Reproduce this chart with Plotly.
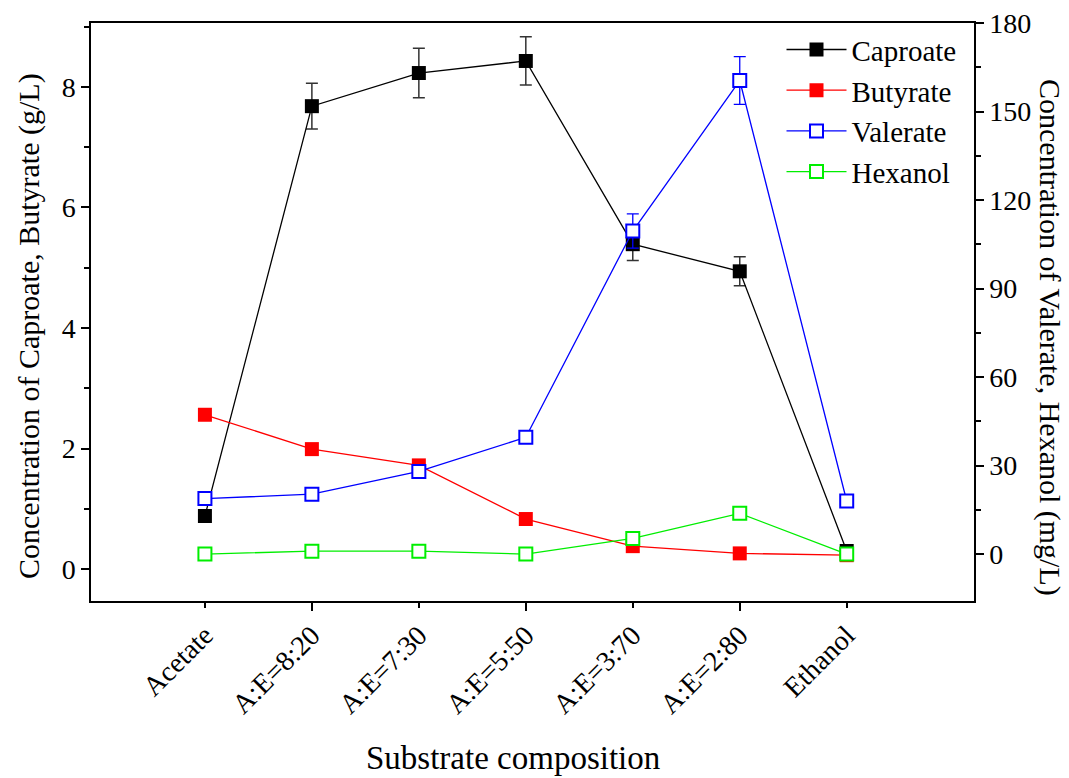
import plotly.graph_objects as go

categories = ["Acetate", "A:E=8:20", "A:E=7:30", "A:E=5:50", "A:E=3:70", "A:E=2:80", "Ethanol"]
caproate = [0.88, 7.68, 8.23, 8.43, 5.39, 4.94, 0.30]
caproate_err = [0.05, 0.38, 0.41, 0.40, 0.27, 0.24, 0.03]
butyrate = [2.56, 1.99, 1.72, 0.83, 0.38, 0.26, 0.23]
butyrate_err = [0.08, 0.05, 0.05, 0.04, 0.03, 0.02, 0.01]
valerate = [18.8, 20.3, 28.0, 39.6, 109.5, 160.5, 18.0]
valerate_err = [2.0, 2.0, 2.0, 1.5, 5.8, 8.1, 2.0]
hexanol = [0.0, 1.0, 1.0, 0.0, 5.3, 13.8, 0.0]
hexanol_err = [1.2, 1.2, 1.2, 1.2, 1.2, 1.2, 1.2]

x = list(range(len(categories)))
FONT = "Liberation Serif"
TICK = 28

fig = go.Figure()
fig.add_trace(go.Scatter(
    x=x, y=caproate, name="Caproate", mode="lines+markers",
    line=dict(color="black", width=1.3),
    marker=dict(symbol="square", size=14, color="black"),
    error_y=dict(type="data", array=caproate_err, color="#333333", thickness=1.5, width=6),
))
fig.add_trace(go.Scatter(
    x=x, y=butyrate, name="Butyrate", mode="lines+markers",
    line=dict(color="red", width=1.3),
    marker=dict(symbol="square", size=14, color="red"),
    error_y=dict(type="data", array=butyrate_err, color="red", thickness=1, width=4),
))
fig.add_trace(go.Scatter(
    x=x, y=valerate, name="Valerate", mode="lines+markers", yaxis="y2",
    line=dict(color="blue", width=1.3),
    marker=dict(symbol="square", size=13, color="white", line=dict(color="blue", width=2)),
    error_y=dict(type="data", array=valerate_err, color="blue", thickness=1.3, width=6),
))
fig.add_trace(go.Scatter(
    x=x, y=hexanol, name="Hexanol", mode="lines+markers", yaxis="y2",
    line=dict(color="#00ee00", width=1.3),
    marker=dict(symbol="square", size=13, color="white", line=dict(color="#00ee00", width=2)),
    error_y=dict(type="data", array=hexanol_err, color="#00ee00", thickness=1, width=4),
))
# helper invisible trace for long-tick overlay axis
fig.add_trace(go.Scatter(x=[x[1]], y=[0], xaxis="x2", mode="markers",
                         marker=dict(opacity=0), showlegend=False, hoverinfo="skip"))

xr = [-1.065, 7.19]
fig.update_layout(
    width=1069, height=778,
    margin=dict(l=91, r=95, t=23, b=177, autoexpand=False),
    paper_bgcolor="white", plot_bgcolor="white",
    font=dict(family=FONT, size=TICK, color="black"),
    showlegend=True,
    legend=dict(x=0.782, y=0.998, xanchor="left", yanchor="top",
                bgcolor="rgba(0,0,0,0)", font=dict(size=29, family=FONT),
                itemwidth=60, tracegroupgap=0),
    xaxis=dict(range=xr, tickmode="array", tickvals=x, ticktext=categories,
               tickangle=-45, ticks="outside", ticklen=5, tickwidth=1.5, tickcolor="black",
               showline=True, linecolor="black", linewidth=1.5, mirror=True, automargin=False,
               showgrid=False, zeroline=False, tickfont=dict(size=TICK, family=FONT)),
    xaxis2=dict(range=xr, overlaying="x", side="bottom", tickmode="array",
                tickvals=[x[1], x[3], x[5]], showticklabels=False, ticks="outside",
                ticklen=9, tickwidth=1.5, tickcolor="black", showline=False, automargin=False,
                showgrid=False, zeroline=False),
    yaxis=dict(range=[-0.53, 9.06], tickmode="array", tickvals=[0, 2, 4, 6, 8],
               ticks="outside", ticklen=8, tickwidth=1.5, tickcolor="black",
               minor=dict(tickvals=[1, 3, 5, 7, 9], ticks="outside", ticklen=5,
                          tickwidth=1.5, tickcolor="black"),
               showline=True, linecolor="black", linewidth=1.5, automargin=False,
               showgrid=False, zeroline=False, tickfont=dict(size=TICK, family=FONT)),
    yaxis2=dict(range=[-15.9, 180], overlaying="y", side="right", tickmode="array",
                tickvals=[0, 30, 60, 90, 120, 150, 180],
                ticks="outside", ticklen=8, tickwidth=1.5, tickcolor="black",
                minor=dict(tickvals=[15, 45, 75, 105, 135, 165], ticks="outside", ticklen=5,
                           tickwidth=1.5, tickcolor="black"),
                showline=True, linecolor="black", linewidth=1.5, automargin=False,
                showgrid=False, zeroline=False, tickfont=dict(size=TICK, family=FONT)),
    annotations=[
        dict(text="Concentration of Caproate, Butyrate (g/L)", x=29, y=326,
             xref="paper", yref="paper", showarrow=False, textangle=-90,
             font=dict(size=30, family=FONT)),
        dict(text="Concentration of Valerate, Hexanol (mg/L)", x=1050, y=337,
             xref="paper", yref="paper", showarrow=False, textangle=90,
             font=dict(size=30, family=FONT)),
        dict(text="Substrate composition", x=513, y=758,
             xref="paper", yref="paper", showarrow=False,
             font=dict(size=33, family=FONT)),
    ],
)
# convert pixel annotation positions to paper coords
pw, ph = 1069 - 91 - 95, 778 - 23 - 177
for a in fig.layout.annotations:
    a.x = (a.x - 91) / pw
    a.y = (778 - 177 - a.y) / ph
    a.xanchor = "center"
    a.yanchor = "middle"

fig.write_html("out.html")
